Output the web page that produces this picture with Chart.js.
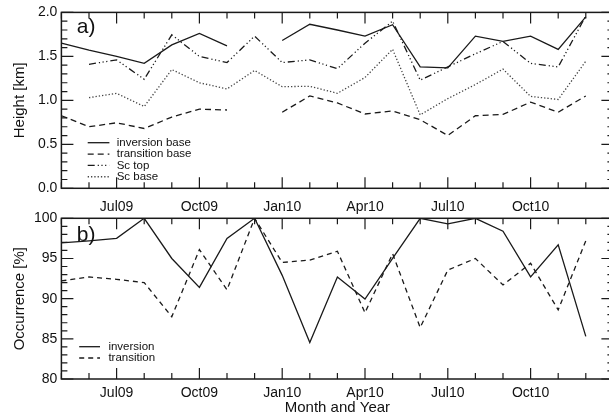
<!DOCTYPE html>
<html>
<head>
<meta charset="utf-8">
<script src="https://cdn.jsdelivr.net/npm/chart.js@4.4.0/dist/chart.umd.min.js"></script>
<style>
  html, body { margin: 0; padding: 0; background: #fff; overflow: hidden; }
  #wrap { position: relative; width: 609px; height: 417px; overflow: hidden; }
  canvas { position: absolute; left: 0; }
  #heightChart { top: 0; }
  #occChart { top: 200px; }
</style>
</head>
<body>
<div id="wrap">
  <canvas id="heightChart" width="614" height="216"></canvas>
  <canvas id="occChart" width="614" height="217"></canvas>
</div>
<script>
// month index 0 = May09 ... 19 = Dec10, axis runs to Jan11 (20)
const months = ['May09', 'Jun09', 'Jul09', 'Aug09', 'Sep09', 'Oct09', 'Nov09', 'Dec09', 'Jan10', 'Feb10',
                'Mar10', 'Apr10', 'May10', 'Jun10', 'Jul10', 'Aug10', 'Sep10', 'Oct10', 'Nov10', 'Dec10'];
const xTickPos = [2, 5, 8, 11, 14, 17];
const xTickLabels = ['Jul09', 'Oct09', 'Jan10', 'Apr10', 'Jul10', 'Oct10'];
const heightTicks = [0, 0.5, 1.0, 1.5, 2.0];
const occTicks = [80, 85, 90, 95, 100];

// panel a) heights in km
const inversionBase  = [1.65, 1.57, 1.50, 1.42, 1.63, 1.76, 1.62, null, 1.68, 1.865, 1.80, 1.73, 1.86, 1.38, 1.37, 1.73, 1.67, 1.73, 1.58, 1.95];
const transitionBase = [0.825, 0.70, 0.745, 0.68, 0.81, 0.90, 0.89, null, 0.865, 1.05, 0.97, 0.845, 0.88, 0.78, 0.60, 0.825, 0.84, 0.98, 0.865, 1.05];
const scTop          = [null, 1.41, 1.46, 1.24, 1.745, 1.50, 1.43, 1.73, 1.43, 1.46, 1.36, 1.65, 1.90, 1.23, 1.38, 1.53, 1.67, 1.42, 1.38, 1.96];
const scBase         = [null, 1.03, 1.08, 0.93, 1.35, 1.20, 1.13, 1.34, 1.155, 1.16, 1.08, 1.26, 1.58, 0.835, 1.02, 1.18, 1.355, 1.045, 1.01, 1.445];

// panel b) occurrence in %
const inversionOcc  = [96.95, 97.2, 97.5, 100, 95.0, 91.4, 97.5, 100, 92.9, 84.55, 92.7, 89.95, 95.0, 100, 99.3, 100, 98.4, 92.7, 96.7, 85.3];
const transitionOcc = [92.2, 92.7, 92.4, 92.0, 87.75, 96.1, 91.1, 100, 94.5, 94.8, 95.9, 88.25, 95.6, 86.4, 93.55, 95.0, 91.7, 94.4, 88.6, 97.2];

const FONT = "'Liberation Sans', Arial, Helvetica, sans-serif";
const INK = '#1a1a1a';
Chart.defaults.font.family = FONT;
Chart.defaults.color = '#111';

function toPoints(arr) {
    return arr.map((v, i) => ({ x: i, y: v }));
}

function lineSet(label, values, dash, color) {
    return {
        label: label,
        data: toPoints(values),
        borderColor: color || INK,
        borderWidth: 1.3,
        borderDash: dash,
        pointRadius: 0,
        tension: 0,
        spanGaps: false
    };
}

// frame with inward ticks on all four sides, IDL style
const framePlugin = {
    id: 'frame',
    afterDatasetsDraw(chart, args, o) {
        const { ctx, chartArea: a, scales: { x, y } } = chart;
        ctx.save();
        ctx.strokeStyle = INK;
        ctx.lineWidth = 1.5;
        ctx.strokeRect(a.left, a.top, a.right - a.left, a.bottom - a.top);
        ctx.lineWidth = 1.2;
        ctx.beginPath();
        for (let m = 0; m <= 20; m++) {
            const px = x.getPixelForValue(m);
            const len = xTickPos.includes(m) ? 11 : 6;
            ctx.moveTo(px, a.bottom); ctx.lineTo(px, a.bottom - len);
            ctx.moveTo(px, a.top); ctx.lineTo(px, a.top + len);
        }
        const n = Math.round((y.max - y.min) / o.yMinor);
        for (let k = 0; k <= n; k++) {
            const py = y.getPixelForValue(y.min + k * o.yMinor);
            const len = k % o.majorEvery === 0 ? 12 : 6;
            ctx.moveTo(a.left, py); ctx.lineTo(a.left + len, py);
            ctx.moveTo(a.right, py); ctx.lineTo(a.right - len, py);
        }
        ctx.stroke();
        ctx.font = o.tagSize + 'px ' + FONT;
        ctx.fillStyle = '#111';
        ctx.textBaseline = 'alphabetic';
        ctx.fillText(o.tag, a.left + 15.3, a.top + o.tagY);
        ctx.restore();
    }
};

// legend drawn inside the plot: line sample + label
const lineLegend = {
    id: 'lineLegend',
    afterDatasetsDraw(chart, args, o) {
        const { ctx, chartArea: a } = chart;
        ctx.save();
        ctx.font = '11.5px ' + FONT;
        ctx.textBaseline = 'middle';
        ctx.fillStyle = '#111';
        chart.data.datasets.forEach((ds, i) => {
            const yy = a.bottom - o.firstRow + i * o.rowGap;
            ctx.strokeStyle = ds.borderColor;
            ctx.lineWidth = ds.borderWidth;
            ctx.setLineDash(ds.borderDash || []);
            ctx.beginPath();
            ctx.moveTo(a.left + o.x0, yy);
            ctx.lineTo(a.left + o.x1, yy);
            ctx.stroke();
            ctx.setLineDash([]);
            ctx.fillText(ds.label, a.left + o.tx, yy);
        });
        ctx.restore();
    }
};

function xScale(withTitle, labelPad, boxHeight) {
    return {
        type: 'linear',
        min: 0,
        max: 20,
        grid: { display: false, drawTicks: false },
        border: { display: false },
        afterBuildTicks: s => { s.ticks = xTickPos.map(v => ({ value: v })); },
        afterFit: s => { s.height = boxHeight; },
        ticks: {
            autoSkip: false,
            maxRotation: 0,
            padding: labelPad,
            font: { size: 14 },
            color: '#111',
            callback: (v, i) => xTickLabels[i]
        },
        title: { display: withTitle, text: 'Month and Year', font: { size: 15 }, color: '#111', padding: 0 }
    };
}

function yScale(title, ticks, fmt) {
    return {
        min: ticks[0],
        max: ticks[ticks.length - 1],
        grid: { display: false, drawTicks: false },
        border: { display: false },
        afterBuildTicks: s => { s.ticks = ticks.map(v => ({ value: v })); },
        afterFit: s => { s.width = 61.4; },
        ticks: { padding: 4, font: { size: 14 }, color: '#111', callback: fmt },
        title: { display: true, text: title, font: { size: 15 }, color: '#111', padding: { top: 11, bottom: 0 } }
    };
}

new Chart(document.getElementById('heightChart'), {
    type: 'line',
    data: {
        labels: months,
        datasets: [
            lineSet('inversion base', inversionBase, []),
            lineSet('transition base', transitionBase, [6, 4]),
            lineSet('Sc top', scTop, [7, 3, 1.2, 2.5, 1.2, 2.5, 1.2, 3]),
            lineSet('Sc base', scBase, [1.3, 2], '#444')
        ]
    },
    options: {
        responsive: false,
        animation: false,
        devicePixelRatio: 1,
        layout: { padding: { top: 10.7, bottom: 0, left: 0, right: 0.6 } },
        plugins: {
            legend: { display: false },
            tooltip: { enabled: false },
            frame: { yMinor: 0.1, majorEvery: 5, tag: 'a)', tagSize: 21, tagY: 21 },
            lineLegend: { firstRow: 45.6, rowGap: 11.35, x0: 26.3, x1: 48, tx: 55.3 }
        },
        scales: {
            x: xScale(false, 10, 27.7),
            y: yScale('Height [km]', heightTicks, v => v.toFixed(1))
        }
    },
    plugins: [framePlugin, lineLegend]
});

new Chart(document.getElementById('occChart'), {
    type: 'line',
    data: {
        labels: months,
        datasets: [
            lineSet('inversion', inversionOcc, []),
            lineSet('transition', transitionOcc, [5, 4])
        ]
    },
    options: {
        responsive: false,
        animation: false,
        devicePixelRatio: 1,
        layout: { padding: { top: 18.3, bottom: 0, left: 0, right: 0.6 } },
        plugins: {
            legend: { display: false },
            tooltip: { enabled: false },
            frame: { yMinor: 1, majorEvery: 5, tag: 'b)', tagSize: 21, tagY: 22.4 },
            lineLegend: { firstRow: 32.3, rowGap: 11.3, x0: 17.8, x1: 38.6, tx: 47 }
        },
        scales: {
            x: xScale(true, 6, 38),
            y: yScale('Occurrence [%]', occTicks, v => String(v))
        }
    },
    plugins: [framePlugin, lineLegend]
});
</script>
</body>
</html>
